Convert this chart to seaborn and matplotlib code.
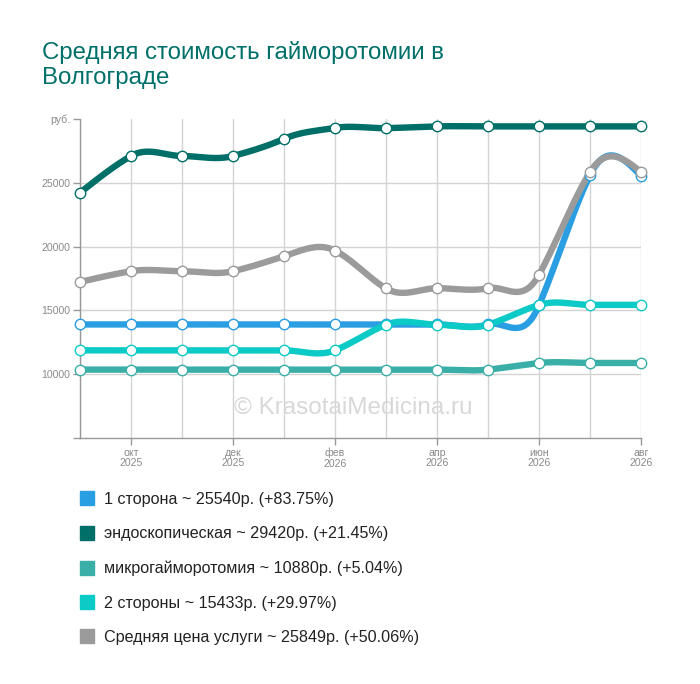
import numpy as np
import pandas as pd
import matplotlib
matplotlib.use('Agg')
import matplotlib.pyplot as plt
import matplotlib.ticker as mticker
from matplotlib.lines import Line2D
import seaborn as sns

months = ['сен\n2025', 'окт\n2025', 'ноя\n2025', 'дек\n2025', 'янв\n2026', 'фев\n2026',
          'мар\n2026', 'апр\n2026', 'май\n2026', 'июн\n2026', 'июл\n2026', 'авг\n2026']

one_side = [13900, 13900, 13900, 13900, 13900, 13900, 13900, 13900, 13900, 15400, 25600, 25540]
endoscopic = [24220, 27100, 27100, 27100, 28440, 29300, 29280, 29420, 29420, 29420, 29420, 29420]
micro = [10360, 10360, 10360, 10360, 10360, 10360, 10360, 10360, 10360, 10880, 10880, 10880]
two_sides = [11870, 11870, 11870, 11870, 11870, 11870, 13880, 13880, 13880, 15433, 15433, 15433]
average = [17230, 18070, 18070, 18070, 19245, 19690, 16720, 16740, 16740, 17790, 25830, 25849]

series_names = ['1 сторона', 'эндоскопическая', 'микрогайморотомия', '2 стороны', 'Средняя цена услуги']
series_values = [one_side, endoscopic, micro, two_sides, average]
legend_labels = ['1 сторона ~ 25540р. (+83.75%)',
                 'эндоскопическая ~ 29420р. (+21.45%)',
                 'микрогайморотомия ~ 10880р. (+5.04%)',
                 '2 стороны ~ 15433р. (+29.97%)',
                 'Средняя цена услуги ~ 25849р. (+50.06%)']
colors = ['#2a9ee2', '#006f68', '#3aafa8', '#0ccac6', '#9b9b9b']


def smooth(y, k=0.8, n=40):
    # cardinal spline through the points, just for drawing the curve
    y = np.asarray(y, dtype=float)
    m = np.zeros_like(y)
    m[1:-1] = k * (y[2:] - y[:-2])
    m[0] = (3 * (y[1] - y[0]) - m[1]) / 2
    m[-1] = (3 * (y[-1] - y[-2]) - m[-2]) / 2
    xs, ys = [], []
    t = np.linspace(0, 1, n, endpoint=False)
    h00 = 2 * t**3 - 3 * t**2 + 1
    h10 = t**3 - 2 * t**2 + t
    h01 = -2 * t**3 + 3 * t**2
    h11 = t**3 - t**2
    for i in range(len(y) - 1):
        xs.append(i + t)
        ys.append(h00 * y[i] + h10 * m[i] + h01 * y[i + 1] + h11 * m[i + 1])
    xs.append([len(y) - 1])
    ys.append([y[-1]])
    return np.concatenate(xs), np.concatenate(ys)


sns.set_style('white')
plt.rcParams['font.family'] = ['Liberation Sans', 'DejaVu Sans']

fig = plt.figure(figsize=(7, 6.84), dpi=100)
ax = fig.add_axes([80 / 700, 1 - 438 / 684, 561 / 700, 319 / 684])

x_idx = np.arange(len(months))
for name, vals, col in zip(series_names, series_values, colors):
    sx, sy = smooth(vals)
    df = pd.DataFrame({'x': sx, 'y': sy})
    sns.lineplot(data=df, x='x', y='y', ax=ax, color=col, linewidth=4.6, sort=False,
                 solid_capstyle='round', zorder=3, clip_on=False)
    ax.plot(x_idx, vals, linestyle='none', marker='o', markersize=7.5,
            markerfacecolor='white', markeredgecolor=col, markeredgewidth=1.0, zorder=4,
            clip_on=False)

ax.set_xlim(0, len(months) - 1)
ax.set_ylim(5000, 30000)

ax.xaxis.set_major_locator(mticker.FixedLocator(x_idx[1::2]))
ax.xaxis.set_major_formatter(mticker.FixedFormatter(months[1::2]))
ax.xaxis.set_minor_locator(mticker.FixedLocator(x_idx[0::2]))
ax.yaxis.set_major_locator(mticker.FixedLocator([10000, 15000, 20000, 25000]))
ax.yaxis.set_minor_locator(mticker.FixedLocator([5000, 30000]))
ax.yaxis.set_minor_formatter(mticker.FixedFormatter(['', 'руб.']))

ax.grid(True, which='major', axis='both', color='#d4d4d4', linewidth=1)
ax.grid(True, which='minor', axis='x', color='#d4d4d4', linewidth=1)
ax.set_axisbelow(True)

ax.tick_params(axis='x', which='major', length=5, width=1, color='#999999', labelcolor='#8a8a8a',
               labelsize=7.6, pad=2, bottom=True)
ax.tick_params(axis='x', which='minor', length=0)
ax.tick_params(axis='y', which='both', length=5, width=1, color='#999999', labelcolor='#8a8a8a',
               labelsize=7.6, pad=2, left=True)
for lbl in ax.get_xticklabels():
    lbl.set_linespacing(1.05)

for side in ['top', 'right']:
    ax.spines[side].set_visible(False)
for side in ['left', 'bottom']:
    ax.spines[side].set_color('#999999')
    ax.spines[side].set_linewidth(1)
ax.set_xlabel('')
ax.set_ylabel('')

ax.text(0.487, 0.094, '© KrasotaiMedicina.ru', transform=ax.transAxes, ha='center', va='center',
        fontsize=17.5, color='#d8d8d8', zorder=2)

fig.text(42 / 700, 1 - 41 / 684, 'Средняя стоимость гайморотомии в\nВолгограде', ha='left', va='top',
         fontsize=17.3, color='#00706a', linespacing=1.17)

handles = [Line2D([], [], linestyle='none', marker='s', markersize=10, color=c) for c in colors]
fig.legend(handles, legend_labels, loc='upper left', bbox_to_anchor=(71 / 700, 1 - 484 / 684),
           frameon=False, fontsize=11.6, handlelength=1.0, handletextpad=0.55, labelspacing=1.2,
           borderpad=0, labelcolor='#222222')

plt.savefig('out.png', dpi=100)
